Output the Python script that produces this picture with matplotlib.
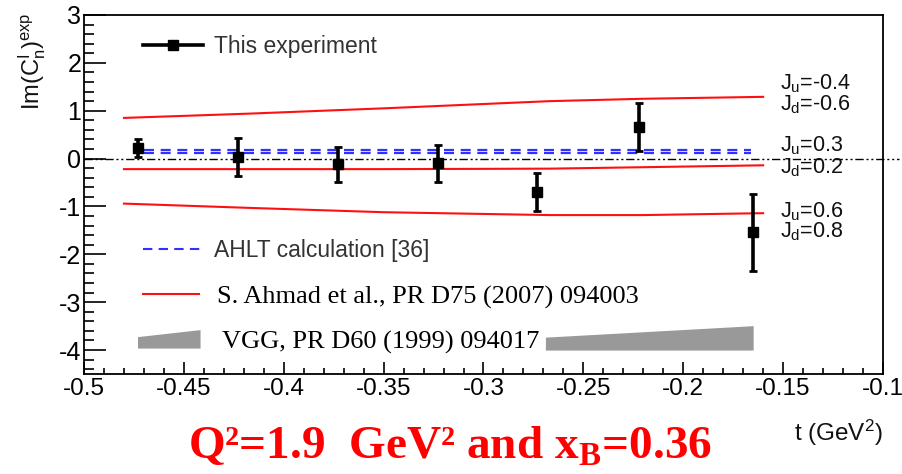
import matplotlib
matplotlib.use('Agg')
import matplotlib.pyplot as plt
from matplotlib.legend_handler import HandlerPatch
from matplotlib.patches import Polygon, Patch
from matplotlib.lines import Line2D

plt.rcParams['font.family'] = ['Liberation Sans', 'DejaVu Sans']
plt.rcParams['mathtext.fontset'] = 'custom'
plt.rcParams['mathtext.rm'] = 'Liberation Sans'
plt.rcParams['mathtext.it'] = 'Liberation Sans:italic'
plt.rcParams['mathtext.bf'] = 'Liberation Serif:bold'

# measured points
t_exp = [-0.473, -0.423, -0.373, -0.323, -0.273, -0.222, -0.165]
im_exp = [0.22, 0.03, -0.12, -0.10, -0.70, 0.66, -1.54]
err_exp = [0.19, 0.39, 0.37, 0.38, 0.39, 0.50, 0.80]

# AHLT (two nearly equal curves)
ahlt_t = [-0.47, -0.166]
ahlt_a = [0.19, 0.19]
ahlt_b = [0.12, 0.12]

# Ahmad et al. curves
ahmad_t = [-0.48, -0.417, -0.35, -0.267, -0.22, -0.16]
ahmad_hi = [0.85, 0.94, 1.05, 1.20, 1.25, 1.29]
ahmad_mid = [-0.22, -0.22, -0.22, -0.21, -0.18, -0.14]
ahmad_lo = [-0.94, -1.03, -1.12, -1.18, -1.18, -1.14]

# VGG band
vgg_t = [-0.269, -0.165]
vgg_lo = [-4.0, -4.0]
vgg_hi = [-3.73, -3.49]

# J labels on the right
j_labels = ['J$_\\mathrm{u}$=-0.4', 'J$_\\mathrm{d}$=-0.6', 'J$_\\mathrm{u}$=0.3',
            'J$_\\mathrm{d}$=0.2', 'J$_\\mathrm{u}$=0.6', 'J$_\\mathrm{d}$=0.8']
j_y = [1.44, 1.01, 0.14, -0.31, -1.22, -1.65]
j_x = -0.1516

xticks = [-0.5, -0.45, -0.4, -0.35, -0.3, -0.25, -0.2, -0.15, -0.1]
xtick_labels = ['-0.5', '-0.45', '-0.4', '-0.35', '-0.3', '-0.25', '-0.2', '-0.15', '-0.1']
yticks = [-4, -3, -2, -1, 0, 1, 2, 3]
ytick_labels = ['-4', '-3', '-2', '-1', '0', '1', '2', '3']

fig = plt.figure(figsize=(9.03, 4.74), dpi=100)
ax = fig.add_axes([84/903, 100/474, 799/903, 359/474])
ax.set_xlim(-0.5, -0.1)
ax.set_ylim(-4.5, 3)

# zero line
ax.plot([-0.5, -0.092], [0, 0], color='black', lw=1.0,
        linestyle=(0, (6, 2, 1.5, 2, 1.5, 2)), clip_on=False, zorder=2)

# curves
ax.plot(ahlt_t, ahlt_a, color='#3030ff', lw=1.6, linestyle=(0, (4.5, 3)), zorder=3)
ax.plot(ahlt_t, ahlt_b, color='#3030ff', lw=1.6, linestyle=(0, (4.5, 3)), zorder=3)
for yy in (ahmad_hi, ahmad_mid, ahmad_lo):
    ax.plot(ahmad_t, yy, color='#ff1010', lw=1.5, zorder=3)
ax.fill_between(vgg_t, vgg_lo, vgg_hi, color='#999999', lw=0, zorder=2)

ax.errorbar(t_exp, im_exp, yerr=err_exp, fmt='s', color='black', ms=7,
            elinewidth=2.6, capsize=3, capthick=2, zorder=5)

for lab, yy in zip(j_labels, j_y):
    ax.text(j_x, yy, lab, fontsize=15.5, color='#111111', ha='left', va='baseline')

# axis styling
for sp in ax.spines.values():
    sp.set_linewidth(1.3)
ax.set_xticks(xticks)
ax.set_xticklabels(xtick_labels, fontsize=17.5, color='black')
ax.set_yticks(yticks)
ax.set_yticklabels(ytick_labels, fontsize=18, color='black')
ax.set_xticks([x / 100 for x in range(-50, -9)], minor=True)
ax.set_yticks([y / 5 for y in range(-22, 16)], minor=True)
ax.tick_params(axis='y', which='major', direction='in', length=16, width=1.2, pad=2)
ax.tick_params(axis='y', which='minor', direction='in', length=7, width=1.2)
ax.tick_params(axis='x', which='major', direction='in', length=9, width=1.2, pad=3)
ax.tick_params(axis='x', which='minor', direction='in', length=4.5, width=1.2)

# legends
class WedgeHandler(HandlerPatch):
    def create_artists(self, legend, orig_handle, xdescent, ydescent, width, height,
                       fontsize, trans):
        x0, y0 = -xdescent, -ydescent
        p = Polygon([(x0, y0), (x0 + width, y0), (x0 + width, y0 + height),
                     (x0, y0 + 0.62 * height)], closed=True,
                    facecolor='#999999', edgecolor='none', transform=trans)
        return [p]

common = dict(loc='center left', frameon=False, borderpad=0, borderaxespad=0)

h_exp = Line2D([], [], color='black', lw=2.6, marker='s', ms=7)
lg1 = ax.legend([h_exp], ['This experiment'], bbox_to_anchor=(0.074, 0.911),
                handlelength=2.6, handletextpad=0.5, labelcolor='#333333',
                prop={'family': 'Liberation Sans', 'size': 16.5}, **common)
ax.add_artist(lg1)

h_ahlt = Line2D([], [], color='#3030ff', lw=1.5, linestyle=(0, (4.5, 3)))
lg2 = ax.legend([h_ahlt], ['AHLT calculation [36]'], bbox_to_anchor=(0.074, 0.345),
                handlelength=2.6, handletextpad=0.5, labelcolor='#333333',
                prop={'family': 'Liberation Sans', 'size': 16.5}, **common)
ax.add_artist(lg2)

h_ahmad = Line2D([], [], color='#ff1010', lw=1.5)
lg3 = ax.legend([h_ahmad], ['S. Ahmad et al., PR D75 (2007) 094003'],
                bbox_to_anchor=(0.074, 0.214), handlelength=2.1, handletextpad=0.7,
                prop={'family': 'Liberation Serif', 'size': 19}, **common)
ax.add_artist(lg3)

h_vgg = Patch(facecolor='#999999')
lg4 = ax.legend([h_vgg], ['VGG, PR D60 (1999) 094017'], bbox_to_anchor=(0.0676, 0.089),
                handlelength=2.37, handletextpad=0.8, handler_map={Patch: WedgeHandler()},
                prop={'family': 'Liberation Serif', 'size': 19}, **common)

# labels
fig.text(0.036, 1 - 13/474, 'Im(C$_\\mathrm{n}^\\mathrm{I}$)$^\\mathrm{exp}$', rotation=90,
         ha='center', va='top', fontsize=17, color='#111111')
fig.text(883/903, 1 - 433/474, 't (GeV$^\\mathrm{2}$)', ha='right', va='center',
         fontsize=17.5, color='#111111')
fig.text(0.498, 1 - 447/474, 'Q\u00b2=1.9  GeV\u00b2 and x$_\\mathbf{B}$=0.36', ha='center',
         va='center', fontsize=34, color='#ff0000', family='Liberation Serif', weight='bold')

fig.savefig('out.png', dpi=100)
